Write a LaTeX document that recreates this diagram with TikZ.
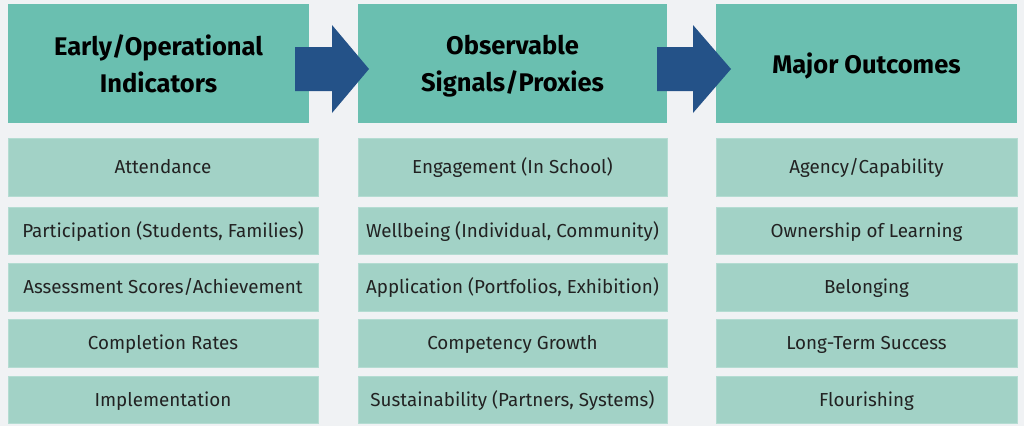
\documentclass[tikz,border=0pt]{standalone}
\usepackage{fontspec}
\setmainfont{Fira Sans}
\definecolor{bgc}{HTML}{F0F2F4}
\definecolor{headc}{HTML}{6ABFB0}
\definecolor{cellc}{HTML}{A2D2C6}
\definecolor{cellb}{HTML}{B4DCD2}
\definecolor{arrowc}{HTML}{245288}
\definecolor{txtc}{HTML}{222222}
\begin{document}
\begin{tikzpicture}[x=1pt,y=-1pt,
  headbox/.style={fill=headc, text=black, inner sep=0pt, align=center, text depth=0pt,
    font=\fontsize{25.5}{37}\selectfont\bfseries},
  cellbox/.style={fill=cellc, draw=cellb, line width=0.8pt, text=txtc, inner sep=0pt,
    text height=13pt, text depth=0pt,
    font=\fontsize{18.8}{22}\selectfont},
  flowarrow/.style={fill=arrowc}]
\fill[bgc] (0,0) rectangle (1024,426);
\useasboundingbox (0,0) rectangle (1024,426);
% headers
\node[headbox, minimum width=301pt, minimum height=119pt] (h1) at (158.5,63.5) {Early/Operational\\Indicators};
\node[headbox, minimum width=309pt, minimum height=119pt] (h2) at (512.5,63.5) {Observable\\Signals/Proxies};
\node[headbox, minimum width=301pt, minimum height=119pt] (h3) at (866.5,63.5) {Major Outcomes};
% arrows
\fill[flowarrow] (295,47) -- (332,47) -- (332,25) -- (369,69) -- (332,113) -- (332,91) -- (295,91) -- cycle;
\fill[flowarrow] (657,47) -- (693,47) -- (693,25) -- (731,69) -- (693,113) -- (693,91) -- (657,91) -- cycle;
% column 1
\node[cellbox, minimum width=310pt, minimum height=58pt] (a1) at (163,167) {Attendance};
\node[cellbox, minimum width=310pt, minimum height=47pt] (a2) at (163,230.5) {Participation (Students, Families)};
\node[cellbox, minimum width=310pt, minimum height=48pt] (a3) at (163,287) {Assessment Scores/Achievement};
\node[cellbox, minimum width=310pt, minimum height=48pt] (a4) at (163,343) {Completion Rates};
\node[cellbox, minimum width=310pt, minimum height=47pt] (a5) at (163,399.5) {Implementation};
% column 2
\node[cellbox, minimum width=309pt, minimum height=58pt] (b1) at (512.5,167) {Engagement (In School)};
\node[cellbox, minimum width=309pt, minimum height=47pt] (b2) at (512.5,230.5) {Wellbeing (Individual, Community)};
\node[cellbox, minimum width=309pt, minimum height=48pt] (b3) at (512.5,287) {Application (Portfolios, Exhibition)};
\node[cellbox, minimum width=309pt, minimum height=48pt] (b4) at (512.5,343) {Competency Growth};
\node[cellbox, minimum width=309pt, minimum height=47pt] (b5) at (512.5,399.5) {Sustainability (Partners, Systems)};
% column 3
\node[cellbox, minimum width=301pt, minimum height=58pt] (c1) at (866.5,167) {Agency/Capability};
\node[cellbox, minimum width=301pt, minimum height=47pt] (c2) at (866.5,230.5) {Ownership of Learning};
\node[cellbox, minimum width=301pt, minimum height=48pt] (c3) at (866.5,287) {Belonging};
\node[cellbox, minimum width=301pt, minimum height=48pt] (c4) at (866.5,343) {Long-Term Success};
\node[cellbox, minimum width=301pt, minimum height=47pt] (c5) at (866.5,399.5) {Flourishing};
\end{tikzpicture}
\end{document}
